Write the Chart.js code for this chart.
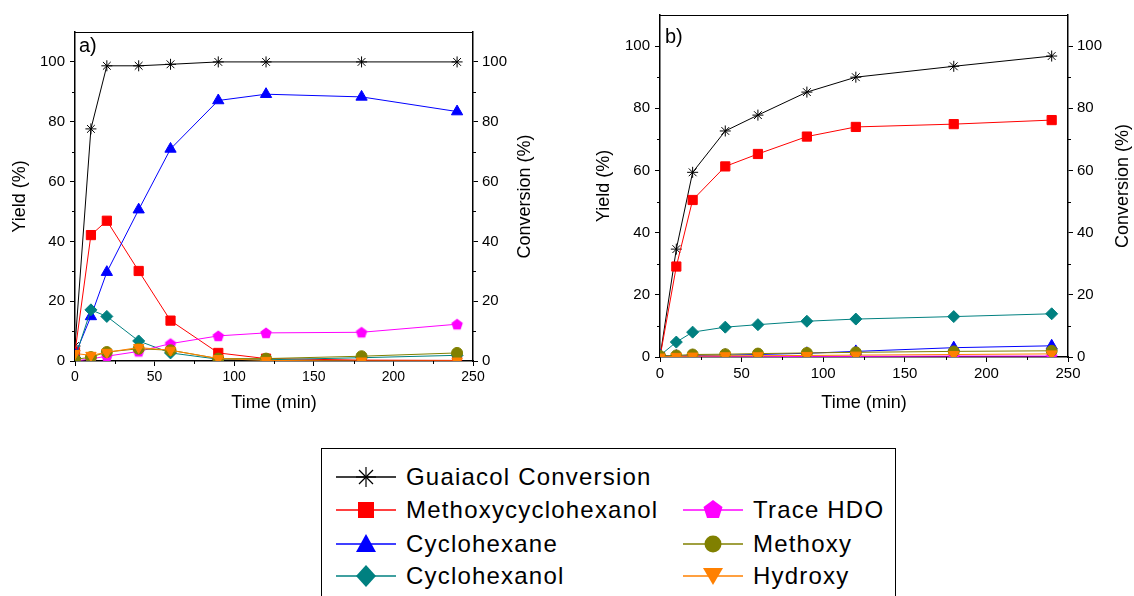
<!DOCTYPE html>
<html lang="en">
<head>
    <meta charset="UTF-8">
    <title>Guaiacol HDO yields</title>
    <script src="https://cdn.jsdelivr.net/npm/chart.js"></script>
    <style>
        body {
            margin: 0;
            width: 1134px;
            height: 596px;
            background: #fff;
            font-family: "Liberation Sans", Arial, sans-serif;
            overflow: hidden;
            position: relative;
        }
        .panel {
            position: absolute;
            top: 0;
            height: 420px;
        }
        #panelA { left: 0; width: 560px; }
        #panelB { left: 580px; width: 554px; }
        .tag {
            position: absolute;
            font-size: 20px;
            color: #000;
        }
        #legend {
            position: absolute;
            left: 321px;
            top: 448px;
            width: 575px;
            height: 170px;
            border: 1.5px solid #000;
            box-sizing: border-box;
        }
        .item {
            position: absolute;
            height: 30px;
            display: flex;
            align-items: center;
            font-size: 24px;
            letter-spacing: 1.2px;
            white-space: nowrap;
        }
        .item svg { margin-right: 10px; }
    </style>
</head>
<body>
    <div class="panel" id="panelA"><canvas id="chartA"></canvas></div>
    <div class="panel" id="panelB"><canvas id="chartB"></canvas></div>
    <div class="tag" style="left:79px; top:34px;">a)</div>
    <div class="tag" style="left:665px; top:25px;">b)</div>
    <div id="legend"></div>

    <script>
        // sampling times (min)
        const times = [0, 10, 20, 40, 60, 90, 120, 180, 240];

        // panel a)
        const convA = [5, 77.6, 98.7, 98.7, 99.2, 100, 100, 100, 100];
        const methoxycyclohexanolA = [3, 42.1, 46.9, 30.1, 13.5, 2.7, 0.8, 0.3, 0.2];
        const cyclohexaneA = [2, 14.9, 29.7, 50.6, 70.9, 87.1, 89.2, 88.3, 83.4];
        const cyclohexanolA = [1, 17.1, 14.9, 6.7, 2.7, 0.6, 0.4, 1.1, 1.9];
        const traceHdoA = [0, 0.7, 1.6, 3.2, 5.8, 8.4, 9.4, 9.6, 12.3];
        const methoxyA = [0.5, 1.3, 3.0, 4.1, 3.6, 0.8, 0.8, 1.6, 2.7];
        const hydroxyA = [2.5, 1.9, 2.9, 4.5, 3.6, 0.8, 0.2, 0, 0];

        // panel b)
        const convB = [0, 34.7, 59.4, 72.7, 77.8, 85.2, 90.0, 93.5, 96.8];
        const methoxycyclohexanolB = [0, 29.1, 50.5, 61.3, 65.3, 70.9, 74.0, 74.9, 76.2];
        const cyclohexaneB = [0.5, 0.3, 0.5, 0.6, 0.8, 1.2, 1.8, 3.0, 3.6];
        const cyclohexanolB = [0.5, 4.8, 8.0, 9.6, 10.4, 11.5, 12.2, 13.0, 13.9];
        const traceHdoB = [0, 0, 0.1, 0.1, 0.1, 0.2, 0.2, 0.3, 0.3];
        const methoxyB = [0.3, 0.5, 0.8, 0.9, 1.1, 1.3, 1.5, 1.8, 2.0];
        const hydroxyB = [0, 0.2, 0.3, 0.4, 0.4, 0.5, 0.6, 0.8, 1.0];

        // axis ticks
        const yTicks = [0, 20, 40, 60, 80, 100];
        const yMinor = [10, 30, 50, 70, 90];
        const xTicks = [0, 50, 100, 150, 200, 250];
        const xMinor = [25, 75, 125, 175, 225];

        const names = ['Guaiacol Conversion', 'Methoxycyclohexanol', 'Cyclohexane', 'Cyclohexanol',
                       'Trace HDO', 'Methoxy', 'Hydroxy'];
        const colors = ['#000000', '#ff0000', '#0000ff', '#008080', '#ff00ff', '#808000', '#ff8000'];

        function pentagon(color, r) {
            const c = document.createElement('canvas');
            const s = Math.ceil(r * 2 + 2);
            c.width = s; c.height = s;
            const g = c.getContext('2d');
            g.fillStyle = color;
            g.beginPath();
            for (let i = 0; i < 5; i++) {
                const a = -Math.PI / 2 + i * 2 * Math.PI / 5;
                const px = s / 2 + r * Math.cos(a), py = s / 2 + r * Math.sin(a) + 0.5;
                i ? g.lineTo(px, py) : g.moveTo(px, py);
            }
            g.closePath();
            g.fill();
            return c;
        }

        const pts = arr => arr.map((v, i) => ({ x: times[i], y: v }));

        function series(label, data, color, style, radius, extra) {
            return Object.assign({
                label: label,
                data: pts(data),
                borderColor: color,
                backgroundColor: color,
                borderWidth: 1,
                pointStyle: style,
                pointRadius: radius,
                pointBorderColor: color,
                pointBackgroundColor: color,
                pointBorderWidth: 1,
                tension: 0,
                yAxisID: 'y'
            }, extra || {});
        }

        const minorTicks = {
            id: 'minorTicks',
            afterDraw(chart) {
                const { ctx, chartArea: a, scales } = chart;
                ctx.save();
                ctx.strokeStyle = '#000';
                ctx.lineWidth = 1;
                ctx.beginPath();
                // top frame line
                ctx.moveTo(a.left, a.top + 0.5);
                ctx.lineTo(a.right, a.top + 0.5);
                yMinor.forEach(v => {
                    const py = Math.round(scales.y.getPixelForValue(v)) + 0.5;
                    ctx.moveTo(a.left - 3, py); ctx.lineTo(a.left, py);
                    ctx.moveTo(a.right, py); ctx.lineTo(a.right + 3, py);
                });
                xMinor.forEach(v => {
                    const px = Math.round(scales.x.getPixelForValue(v)) + 0.5;
                    ctx.moveTo(px, a.bottom); ctx.lineTo(px, a.bottom + 3);
                });
                ctx.stroke();

                // right axis title, reading bottom to top
                const s = scales.y2;
                ctx.translate(s.right - 10.8, (a.top + a.bottom) / 2);
                ctx.rotate(-Math.PI / 2);
                ctx.fillStyle = '#000';
                ctx.font = '18px "Liberation Sans", Arial';
                ctx.textAlign = 'center';
                ctx.textBaseline = 'middle';
                ctx.fillText('Conversion (%)', 0, 0);
                ctx.restore();
            }
        };

        function makeChart(id, d, box, xFont) {
            const grid = { display: true, drawOnChartArea: false, drawTicks: true, tickLength: 5, color: '#000' };
            const border = { display: true, color: '#000', width: 1.5 };
            const title = (text, size) => ({ display: true, text: text, color: '#000',
                font: { family: 'Liberation Sans, Arial', size: size }, padding: 0 });
            const tickFont = { family: 'Liberation Sans, Arial', size: 15 };
            const pentR = 6;

            return new Chart(document.getElementById(id), {
                type: 'line',
                data: {
                    datasets: [
                        series(names[6], d.hyd, colors[6], 'triangle', 6, { pointRotation: 180 }),
                        series(names[5], d.meo, colors[5], 'circle', 5.5),
                        series(names[4], d.hdo, colors[4], pentagon(colors[4], pentR), pentR),
                        series(names[3], d.ol, colors[3], 'rectRot', 6),
                        series(names[2], d.ane, colors[2], 'triangle', 6.5),
                        series(names[1], d.mcx, colors[1], 'rect', 6.5),
                        series(names[0], d.conv, colors[0], 'star', 5.5, { yAxisID: 'y2' })
                    ]
                },
                options: {
                    responsive: true,
                    maintainAspectRatio: false,
                    animation: false,
                    layout: { padding: box.pad },
                    plugins: { legend: { display: false }, tooltip: { enabled: false } },
                    scales: {
                        x: {
                            type: 'linear', min: 0, max: 250,
                            grid: grid, border: border,
                            afterBuildTicks: s => { s.ticks = xTicks.map(v => ({ value: v })); },
                            afterFit: s => { s.height = box.xh; },
                            ticks: { color: '#000', font: { family: 'Liberation Sans, Arial', size: xFont },
                                     padding: 3, maxRotation: 0 },
                            title: title('Time (min)', 18)
                        },
                        y: {
                            type: 'linear', position: 'left', min: 0, max: 110,
                            grid: grid, border: border,
                            afterBuildTicks: s => { s.ticks = yTicks.map(v => ({ value: v })); },
                            afterFit: s => { s.width = box.yw; },
                            ticks: { color: '#000', font: tickFont, padding: 5 },
                            title: title('Yield (%)', 18)
                        },
                        y2: {
                            type: 'linear', position: 'right', min: 0, max: 110,
                            grid: grid, border: border,
                            afterBuildTicks: s => { s.ticks = yTicks.map(v => ({ value: v })); },
                            afterFit: s => { s.width = box.y2w; },
                            ticks: { color: '#000', font: tickFont, padding: 4 },
                            title: { display: false }
                        }
                    }
                },
                plugins: [minorTicks]
            });
        }

        makeChart('chartA', {
            conv: convA, mcx: methoxycyclohexanolA, ane: cyclohexaneA, ol: cyclohexanolA,
            hdo: traceHdoA, meo: methoxyA, hyd: hydroxyA
        }, { pad: { left: 9, right: 24, top: 32, bottom: 6 }, yw: 66, y2w: 63, xh: 53 }, 14);

        makeChart('chartB', {
            conv: convB, mcx: methoxycyclohexanolB, ane: cyclohexaneB, ol: cyclohexanolB,
            hdo: traceHdoB, meo: methoxyB, hyd: hydroxyB
        }, { pad: { left: 13, right: 0, top: 15, bottom: 6 }, yw: 67, y2w: 66, xh: 57 }, 15);

        // legend
        function symbol(i) {
            const c = colors[i];
            let m = '';
            if (i === 0) {
                m = `<g stroke="${c}" stroke-width="1.2"><line x1="30" y1="3" x2="30" y2="23"/>
                     <line x1="20" y1="13" x2="40" y2="13"/><line x1="23" y1="6" x2="37" y2="20"/>
                     <line x1="37" y1="6" x2="23" y2="20"/></g>`;
            } else if (i === 1) {
                m = `<rect x="22" y="5" width="16" height="16" fill="${c}"/>`;
            } else if (i === 2) {
                m = `<polygon points="30,3 40,21 20,21" fill="${c}"/>`;
            } else if (i === 3) {
                m = `<polygon points="30,2 40,13 30,24 20,13" fill="${c}"/>`;
            } else if (i === 4) {
                m = `<polygon points="30,3 39.5,10 36,21 24,21 20.5,10" fill="${c}"/>`;
            } else if (i === 5) {
                m = `<circle cx="30" cy="13" r="8.5" fill="${c}"/>`;
            } else {
                m = `<polygon points="20,5 40,5 30,22" fill="${c}"/>`;
            }
            return `<svg width="60" height="26" viewBox="0 0 60 26">
                <line x1="0" y1="13" x2="60" y2="13" stroke="${c}" stroke-width="1.5"/>${m}</svg>`;
        }
        const legendPos = [[14, 13], [14, 46], [14, 80], [14, 112], [361, 46], [361, 80], [361, 112]];
        const legend = document.getElementById('legend');
        names.forEach((n, i) => {
            const el = document.createElement('div');
            el.className = 'item';
            el.style.left = legendPos[i][0] + 'px';
            el.style.top = legendPos[i][1] + 'px';
            el.innerHTML = symbol(i) + '<span>' + n + '</span>';
            legend.appendChild(el);
        });
    </script>
</body>
</html>
